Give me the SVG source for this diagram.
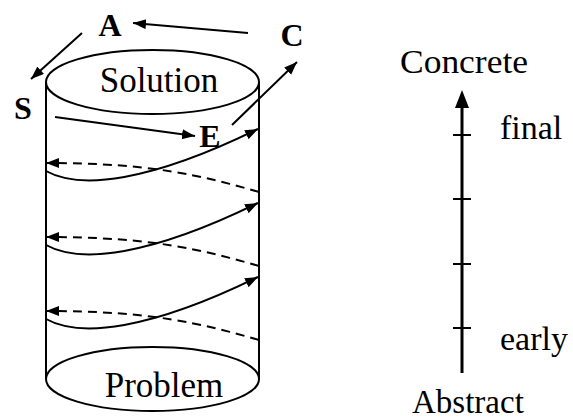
<svg xmlns="http://www.w3.org/2000/svg" width="573" height="419" viewBox="0 0 573 419">
<defs>
<style>
text{fill:#000}
.lbl{font-size:32px;font-weight:bold}
.reg{font-size:34px}
.ln{fill:none;stroke:#000;stroke-width:2}
.dash{fill:none;stroke:#000;stroke-width:2;stroke-dasharray:9 6}
</style>
<marker id="ah" markerUnits="userSpaceOnUse" markerWidth="14" markerHeight="12" refX="13" refY="5" orient="auto">
<path d="M0,0 L13,5 L0,10 Z" fill="#000"/>
</marker>
</defs>
<rect width="573" height="419" fill="#fff"/>
<g id="cylinder">
<line class="ln" x1="46" y1="82" x2="46" y2="379"/>
<line class="ln" x1="259" y1="82" x2="259" y2="379"/>
</g>
<g id="solution">
<ellipse class="ln" cx="152.5" cy="82" rx="106.5" ry="32" fill="#fff"/>
<text class="reg" x="159" y="92" text-anchor="middle" font-family="Liberation Serif" style="font-size:35px">Solution</text>
</g>
<g id="problem">
<ellipse class="ln" cx="152.5" cy="379" rx="106.5" ry="32" fill="#fff"/>
<text class="reg" x="164" y="397" text-anchor="middle" font-family="Liberation Serif" style="font-size:35px">Problem</text>
</g>
<g id="A"><text class="lbl" x="110" y="36" text-anchor="middle" font-family="Liberation Serif">A</text></g>
<g id="S"><text class="lbl" x="23" y="119" text-anchor="middle" font-family="Liberation Serif">S</text></g>
<g id="C"><text class="lbl" x="292" y="46" text-anchor="middle" font-family="Liberation Serif">C</text></g>
<g id="E"><text class="lbl" x="210" y="147" text-anchor="middle" font-family="Liberation Serif">E</text></g>
<g id="connectors">
<line class="ln" x1="248" y1="33" x2="133" y2="23" marker-end="url(#ah)"/>
<line class="ln" x1="82" y1="33" x2="31" y2="79" marker-end="url(#ah)"/>
<line class="ln" x1="55" y1="117" x2="195" y2="136" marker-end="url(#ah)"/>
<line class="ln" x1="232" y1="125" x2="297" y2="62" marker-end="url(#ah)"/>
<path class="ln" d="M46,171 C80,190 150,182 258,129" marker-end="url(#ah)"/>
<path class="dash" d="M259,192 C200,175 150,163 46,163" marker-end="url(#ah)"/>
<path class="ln" d="M46,245 C80,264 150,256 258,203" marker-end="url(#ah)"/>
<path class="dash" d="M259,266 C200,249 150,237 46,237" marker-end="url(#ah)"/>
<path class="ln" d="M46,319 C80,338 150,330 258,277" marker-end="url(#ah)"/>
<path class="dash" d="M259,340 C200,323 150,311 46,311" marker-end="url(#ah)"/>
</g>
<g id="axis">
<line x1="462" y1="373" x2="462" y2="106" stroke="#000" stroke-width="3"/>
<path d="M462,90 L469,108 L455,108 Z" fill="#000"/>
<g stroke="#000" stroke-width="2">
<line x1="453" y1="135" x2="471" y2="135"/>
<line x1="453" y1="199" x2="471" y2="199"/>
<line x1="453" y1="264" x2="471" y2="264"/>
<line x1="453" y1="328" x2="471" y2="328"/>
</g>
<text class="reg" x="400" y="73" textLength="128" lengthAdjust="spacingAndGlyphs" font-family="Liberation Serif">Concrete</text>
<text class="reg" x="500" y="139" font-family="Liberation Serif">final</text>
<text class="reg" x="500" y="350" font-family="Liberation Serif">early</text>
<text class="reg" x="412" y="413" font-family="Liberation Serif" style="font-size:33px">Abstract</text>
</g>
</svg>
